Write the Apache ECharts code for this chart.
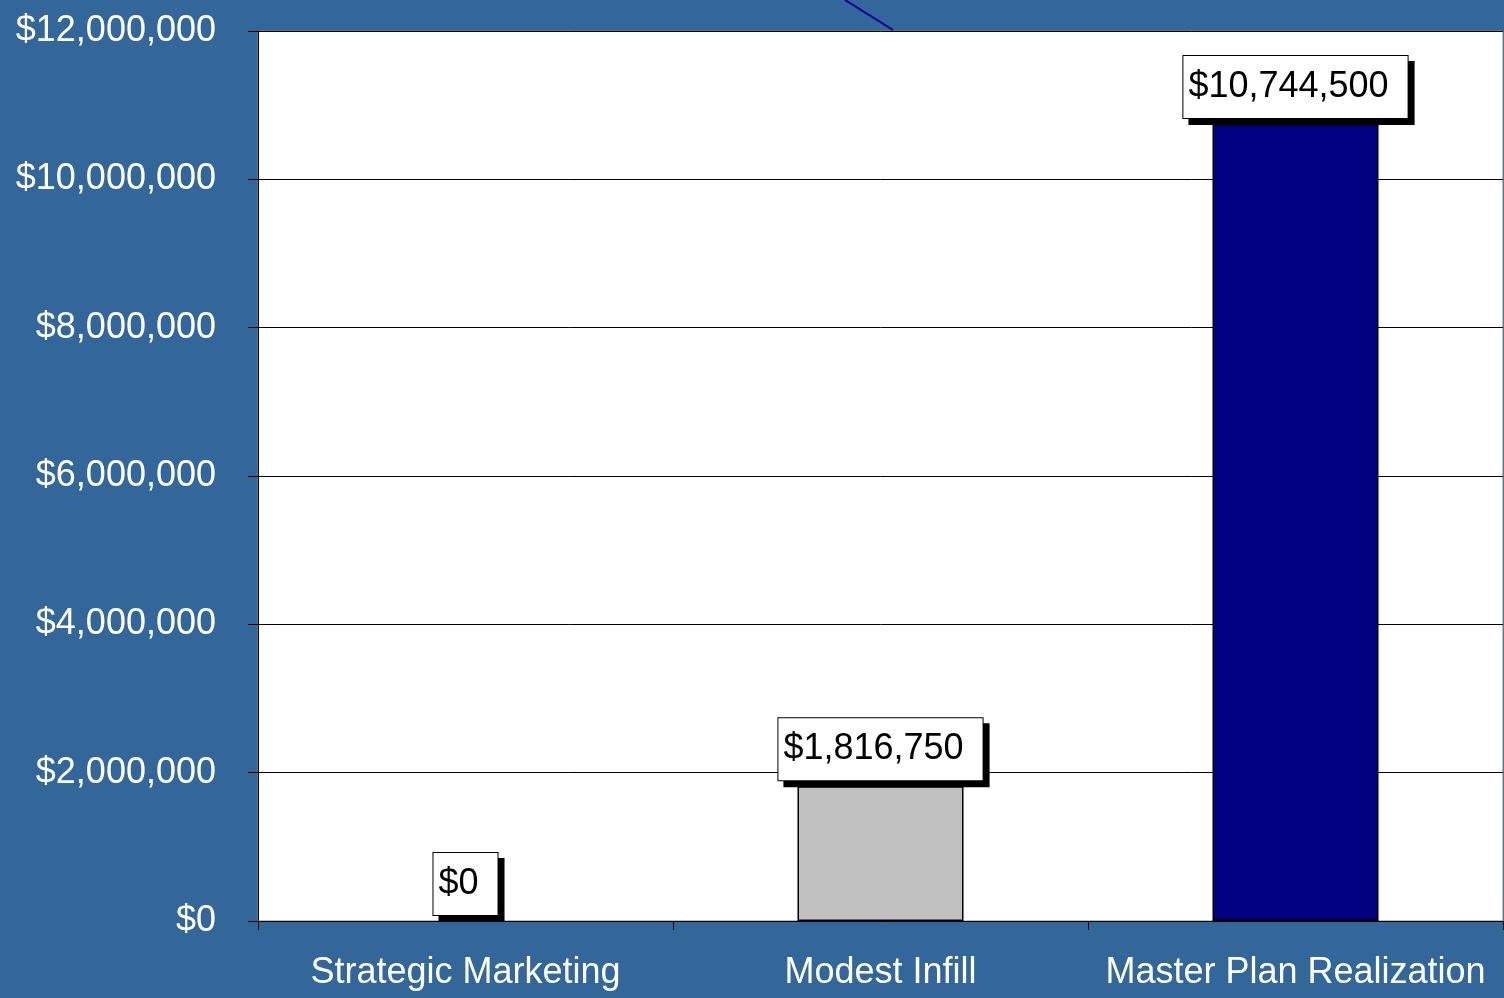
<!DOCTYPE html>
<html>
<head>
<meta charset="utf-8">
<script src="https://cdn.jsdelivr.net/npm/echarts@6/dist/echarts.min.js"></script>
<style>
  html, body { margin: 0; padding: 0; background: #336699; }
  #chart { width: 1504px; height: 998px; }
</style>
</head>
<body>
<div id="chart"></div>
<script>
// Scenario names and projected dollar values
const categories = ['Strategic Marketing', 'Modest Infill', 'Master Plan Realization'];
const values = [0, 1816750, 10744500];
const barColors = ['#C0C0C0', '#C0C0C0', '#000080'];

const FONT = '"Liberation Sans", Arial, sans-serif';
const money = v => '$' + Math.round(v).toLocaleString('en-US');

const chart = echarts.init(document.getElementById('chart'), null, { renderer: 'canvas' });

chart.setOption({
  backgroundColor: '#336699',
  animation: false,
  grid: {
    left: 258, top: 31, right: 1, bottom: 77,
    show: true, backgroundColor: '#FFFFFF', borderColor: '#808080', borderWidth: 1
  },
  xAxis: {
    type: 'category',
    data: categories,
    axisLine: { lineStyle: { color: '#000000', width: 1 } },
    axisTick: { show: true, length: 9, lineStyle: { color: '#000000' } },
    axisLabel: { color: '#FFFFFF', fontSize: 36, fontFamily: FONT, margin: 34, interval: 0 }
  },
  yAxis: {
    type: 'value',
    min: 0, max: 12000000, interval: 2000000,
    axisLine: { show: true, lineStyle: { color: '#000000', width: 1 } },
    axisTick: { show: true, length: 10, lineStyle: { color: '#000000' } },
    axisLabel: {
      color: '#FFFFFF', fontSize: 36, fontFamily: FONT, margin: 42,
      padding: [4, 0, 0, 0], formatter: money
    },
    splitLine: { show: true, lineStyle: { color: '#000000', width: 1 } }
  },
  series: [{
    type: 'bar',
    data: values.map((v, i) => ({
      value: v,
      itemStyle: { color: barColors[i], borderWidth: v === 0 ? 0 : 1.5 }
    })),
    barWidth: '40%',
    itemStyle: { borderColor: '#000000' },
    label: {
      show: true,
      position: 'top',
      distance: 6,
      formatter: p => money(p.value),
      color: '#000000',
      fontSize: 36,
      fontFamily: FONT,
      backgroundColor: '#FFFFFF',
      borderColor: '#000000',
      borderWidth: 1,
      padding: [13, 19, 13, 5],
      shadowColor: '#000000',
      shadowBlur: 0,
      shadowOffsetX: 6,
      shadowOffsetY: 6
    }
  }],
  graphic: [{
    type: 'line',
    shape: { x1: 845, y1: 0, x2: 893, y2: 30 },
    style: { stroke: '#000099', lineWidth: 2 },
    z: 0
  }]
});
</script>
</body>
</html>
